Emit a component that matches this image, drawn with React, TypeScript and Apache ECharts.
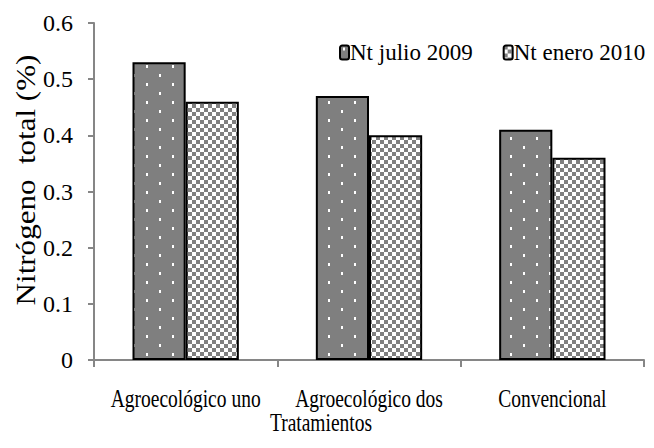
import React, { useEffect, useRef } from "react";
import * as echarts from "echarts";

const categories = ["Agroecológico uno", "Agroecológico dos", "Convencional"];
const seriesNames = ["Nt julio 2009", "Nt enero 2010"];
const julio2009 = [0.53, 0.47, 0.41];
const enero2010 = [0.46, 0.4, 0.36];
const xAxisTitle = "Tratamientos";
const yAxisTitle = "Nitrógeno  total (%)";

const FONT = "'Liberation Serif', 'Times New Roman', serif";

function dotPattern(): HTMLCanvasElement {
  const c = document.createElement("canvas");
  c.width = 26;
  c.height = 18;
  const ctx = c.getContext("2d")!;
  ctx.fillStyle = "#7f7f7f";
  ctx.fillRect(0, 0, 26, 18);
  ctx.fillStyle = "#ffffff";
  ctx.fillRect(3, 2, 2, 3);
  ctx.fillRect(16, 11, 2, 3);
  return c;
}

function checkPattern(): HTMLCanvasElement {
  const c = document.createElement("canvas");
  c.width = 8;
  c.height = 8;
  const ctx = c.getContext("2d")!;
  ctx.fillStyle = "#ffffff";
  ctx.fillRect(0, 0, 8, 8);
  ctx.fillStyle = "#808080";
  ctx.fillRect(0, 0, 4, 4);
  ctx.fillRect(4, 4, 4, 4);
  return c;
}

export default function App() {
  const ref = useRef<HTMLDivElement>(null);
  useEffect(() => {
    if (!ref.current) return;
    const chart = echarts.init(ref.current, undefined, { renderer: "svg" });
    const p1 = { image: dotPattern(), repeat: "repeat" };
    const p2 = { image: checkPattern(), repeat: "repeat" };
    chart.setOption({
      animation: false,
      backgroundColor: "#ffffff",
      textStyle: { fontFamily: FONT },
      grid: { left: 94, right: 10, top: 23, bottom: 88, containLabel: false },
      legend: {
        top: 36,
        left: 334,
        itemWidth: 9,
        itemHeight: 14,
        itemGap: 30,
        textStyle: { fontFamily: FONT, fontSize: 23, color: "#000", padding: [0, 0, 0, -4] },
        data: seriesNames,
      },
      xAxis: {
        type: "category",
        data: categories,
        axisLine: { lineStyle: { color: "#868686", width: 2 } },
        axisTick: { show: true, length: 7, lineStyle: { color: "#868686", width: 2 } },
        axisLabel: { show: false },
      },
      yAxis: {
        type: "value",
        min: 0,
        max: 0.6,
        interval: 0.1,
        splitLine: { show: false },
        axisLine: { show: true, lineStyle: { color: "#868686", width: 2 } },
        axisTick: { show: true, length: 6, lineStyle: { color: "#868686", width: 2 } },
        axisLabel: {
          fontFamily: FONT,
          fontSize: 24,
          color: "#000",
          margin: 21,
          formatter: (v: number) => (v === 0 ? "0" : String(Math.round(v * 10) / 10)),
        },
      },
      series: [
        {
          name: seriesNames[0],
          type: "bar",
          data: julio2009,
          barGap: "0%",
          barCategoryGap: "42%",
          itemStyle: { color: p1, borderColor: "#000", borderWidth: 2 },
        },
        {
          name: seriesNames[1],
          type: "bar",
          data: enero2010,
          itemStyle: { color: p2, borderColor: "#000", borderWidth: 2 },
        },
      ],
    });

    // Condensed category labels placed from the axis scale
    const y0 = chart.convertToPixel({ yAxisIndex: 0 }, 0) as number;
    const labelTexts = categories.map((c) => {
      const cx = chart.convertToPixel({ xAxisIndex: 0 }, c) as number;
      return {
        type: "text",
        x: cx,
        y: y0 + 26,
        scaleX: 0.75,
        style: { text: c, font: `26px ${FONT}`, fill: "#000", align: "center", verticalAlign: "top" },
      };
    });
    chart.setOption({
      graphic: [
        ...labelTexts,
        {
          type: "text",
          x: 321,
          y: y0 + 50,
          scaleX: 0.75,
          style: { text: xAxisTitle, font: `26px ${FONT}`, fill: "#000", align: "center", verticalAlign: "top" },
        },
        {
          type: "text",
          x: 26,
          y: 180,
          rotation: Math.PI / 2,
          scaleX: 1.15,
          style: { text: yAxisTitle, font: `27px ${FONT}`, fill: "#000", align: "center", verticalAlign: "middle" },
        },
      ],
    });
    return () => chart.dispose();
  }, []);
  return <div ref={ref} style={{ width: 654, height: 448, position: "absolute", left: 0, top: 0 }} />;
}
